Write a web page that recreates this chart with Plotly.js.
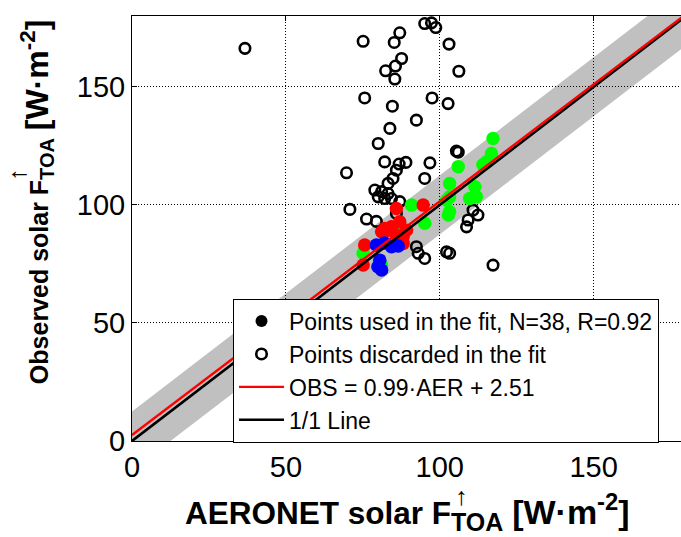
<!DOCTYPE html>
<html>
<head>
<meta charset="utf-8">
<script src="https://cdn.plot.ly/plotly-3.0.1.min.js"></script>
<style>
html, body { margin: 0; padding: 0; overflow: hidden; background: #fff; }
#chart { width: 690px; height: 537px; }
</style>
</head>
<body>
<div id="chart"></div>
<script>
// ---- data ----
const discardedX = [36.7, 75.1, 87.0, 85.2, 95.1, 97.3, 98.7, 103.0, 87.6, 85.6, 82.4, 85.4, 106.2, 75.6, 84.6, 97.5, 102.7, 92.4, 83.8, 80.0, 105.4, 106.0, 82.1, 86.8, 89.0, 96.8, 69.7, 95.1, 85.9, 84.8, 83.2, 78.9, 81.1, 83.2, 80.0, 82.1, 84.3, 87.0, 70.8, 76.2, 79.4, 110.8, 112.4, 109.2, 108.7, 92.4, 93.0, 95.1, 102.2, 103.2, 117.3, 85.9];
const discardedY = [166.3, 169.3, 172.9, 168.8, 176.8, 177.1, 175.1, 168.1, 162.0, 158.8, 156.8, 153.3, 156.6, 145.3, 141.8, 145.3, 142.9, 135.9, 132.4, 126.0, 122.8, 122.3, 118.2, 117.3, 118.0, 117.8, 113.6, 111.2, 114.7, 111.2, 109.1, 106.3, 105.6, 104.8, 103.4, 102.7, 102.7, 101.4, 98.1, 94.0, 93.0, 97.8, 95.7, 93.6, 90.7, 82.3, 79.5, 77.3, 80.1, 79.5, 74.5, 96.4];

const greenX = [117.3, 116.8, 115.2, 106.0, 103.2, 111.4, 103.2, 102.2, 109.7, 111.9, 103.2, 102.8, 95.1, 90.8, 88.1, 75.1, 81.1, 114.0];
const greenY = [128.1, 121.8, 118.3, 116.2, 109.1, 107.7, 103.4, 102.0, 102.7, 103.4, 97.1, 95.7, 92.2, 99.9, 89.3, 79.5, 74.5, 117.0];

const redX = [94.6, 85.9, 87.0, 83.2, 82.1, 84.3, 81.1, 85.9, 88.1, 89.2, 88.1, 75.6, 75.1];
const redY = [99.9, 98.5, 92.9, 89.3, 90.0, 90.7, 88.6, 87.2, 86.5, 89.3, 83.7, 83.0, 74.5];

const blueX = [79.4, 82.1, 84.3, 86.5, 80.5, 79.9, 81.1];
const blueY = [83.0, 83.9, 82.3, 82.6, 76.6, 73.8, 72.4];

const fitSlope = 0.99;
const fitIntercept = 2.51;
const bandHalfWidth = 12.5;
const axisRange = [0, 180];
const tickValues = [0, 50, 100, 150];
const tickLabels = ['0', '50', '100', '150'];

const legendLabels = [
  'Points used in the fit, N=38, R=0.92',
  'Points discarded in the fit',
  'OBS = 0.99·AER + 2.51',
  '1/1 Line'
];
const xTitle = '<b>AERONET solar F<sub><span style="font-size:25px">TOA</span></sub> <span style="font-size:34px">[W·m<sup>-2</sup>]</span></b>';
const yTitle = '<b><span style="font-size:25px">Observed solar F</span><sub><span style="font-size:20px">TOA</span></sub> <span style="font-size:32px">[W·m<sup>-2</sup>]</span></b>';
const arrowText = '↑';

// ---- derived line data ----
const lineX = axisRange.slice();
const oneToOneY = lineX.map(v => v);
const fitY = lineX.map(v => fitSlope * v + fitIntercept);
// ±bandHalfWidth band around the 1/1 line, limited to the axis range
const lo = axisRange[0], hi = axisRange[1], w = bandHalfWidth;
const bandPts = [[lo, lo], [lo, lo + w], [hi - w, hi], [hi, hi], [hi, hi - w], [lo + w, lo]];
const bandPath = 'M' + bandPts.map(p => p[0] + ',' + p[1]).join(' L') + ' Z';

const FONT = 'Liberation Sans, Arial, sans-serif';

const traces = [
  { x: discardedX, y: discardedY, type: 'scatter', mode: 'markers', name: legendLabels[1], legendrank: 2,
    marker: { symbol: 'circle-open', size: 10.5, color: '#000', line: { width: 2.6, color: '#000' } } },
  { x: greenX, y: greenY, type: 'scatter', mode: 'markers', showlegend: false,
    marker: { symbol: 'circle', size: 13.5, color: '#00ff00', line: { width: 0 } } },
  { x: redX, y: redY, type: 'scatter', mode: 'markers', showlegend: false,
    marker: { symbol: 'circle', size: 13.5, color: '#ff0000', line: { width: 0 } } },
  { x: blueX, y: blueY, type: 'scatter', mode: 'markers', showlegend: false,
    marker: { symbol: 'circle', size: 13.5, color: '#0000ff', line: { width: 0 } } },
  { x: [null], y: [null], type: 'scatter', mode: 'markers', name: legendLabels[0], legendrank: 1,
    marker: { symbol: 'circle', size: 12, color: '#000' } },
  { x: lineX, y: oneToOneY, type: 'scatter', mode: 'lines', name: legendLabels[3], legendrank: 4,
    line: { color: '#000', width: 2.6 } },
  { x: lineX, y: fitY, type: 'scatter', mode: 'lines', name: legendLabels[2], legendrank: 3,
    line: { color: '#ff0000', width: 2.4 } }
];

const axisCommon = {
  range: axisRange,
  tickvals: tickValues,
  ticktext: tickLabels,
  ticks: 'inside',
  ticklen: 5,
  tickwidth: 1,
  tickcolor: '#000',
  showline: true,
  linecolor: '#000',
  linewidth: 1,
  mirror: 'ticks',
  showgrid: true,
  gridcolor: '#000',
  gridwidth: 1,
  griddash: '1px,2px',
  zeroline: false,
  tickfont: { family: FONT, size: 29, color: '#000' },
  fixedrange: true
};

const layout = {
  width: 690,
  height: 537,
  margin: { l: 132, r: 4, t: 16, b: 96 },
  paper_bgcolor: '#fff',
  plot_bgcolor: '#fff',
  font: { family: FONT, color: '#000' },
  xaxis: Object.assign({}, axisCommon),
  yaxis: Object.assign({}, axisCommon),
  shapes: [
    { type: 'path', xref: 'x', yref: 'y', path: bandPath, fillcolor: '#c0c0c0',
      line: { width: 0 }, layer: 'below' }
  ],
  showlegend: true,
  legend: {
    x: 0.1823, y: 0.335, xanchor: 'left', yanchor: 'top',
    bgcolor: '#fff', bordercolor: '#000', borderwidth: 1,
    font: { family: FONT, size: 23, color: '#000' },
    itemwidth: 45, traceorder: 'normal', tracegroupgap: 0
  },
  annotations: [
    { text: xTitle, xref: 'paper', yref: 'paper', x: 0.497, y: -0.168, xanchor: 'center', yanchor: 'middle',
      showarrow: false, font: { family: FONT, size: 31.5, color: '#000' } },
    { text: arrowText, xref: 'paper', yref: 'paper', x: 0.594, y: -0.13, xanchor: 'center', yanchor: 'middle',
      showarrow: false, font: { family: FONT, size: 25, color: '#000' } },
    { text: yTitle, xref: 'paper', yref: 'paper', x: -0.1733, y: 0.562, xanchor: 'center', yanchor: 'middle',
      textangle: -90, showarrow: false, font: { family: FONT, size: 28, color: '#000' } },
    { text: arrowText, xref: 'paper', yref: 'paper', x: -0.2076, y: 0.628, xanchor: 'center', yanchor: 'middle',
      textangle: -90, showarrow: false, font: { family: FONT, size: 25, color: '#000' } }
  ]
};

Plotly.newPlot('chart', traces, layout, { staticPlot: true, displayModeBar: false });
</script>
</body>
</html>
